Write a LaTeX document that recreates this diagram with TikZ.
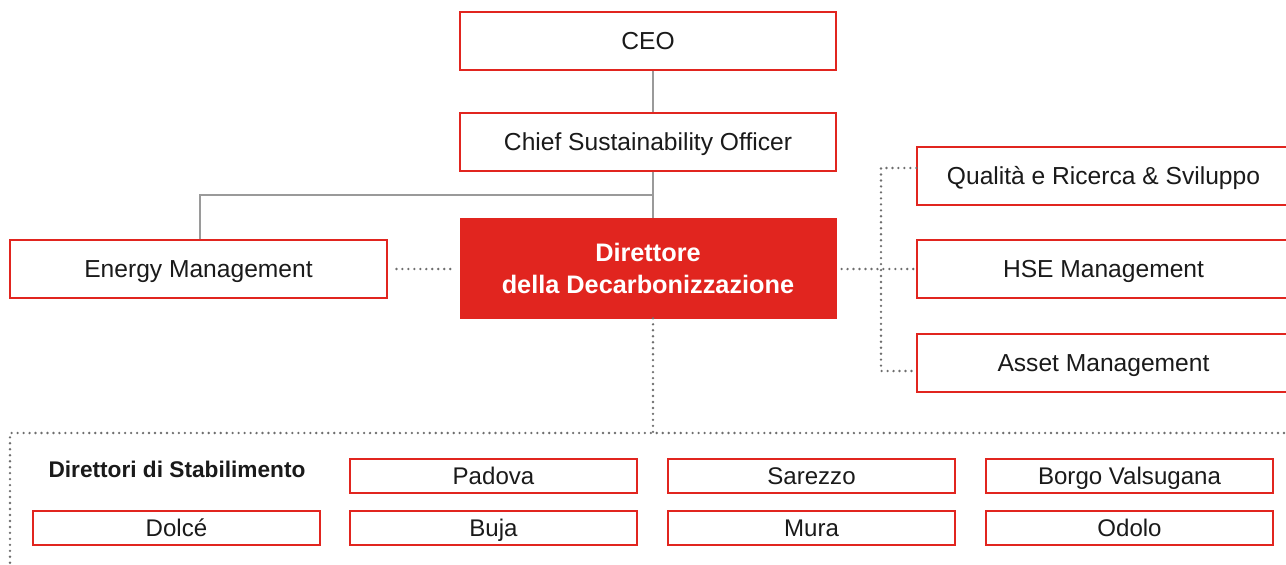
\documentclass[tikz,border=0pt]{standalone}
\usepackage{fontspec}
\setmainfont{Liberation Sans}
\definecolor{orgred}{HTML}{E1251F}
\definecolor{linegrey}{HTML}{9A9A9A}
\definecolor{dotgrey}{HTML}{6E6E6E}
\definecolor{txt}{HTML}{1A1A1A}
\begin{document}
\begin{tikzpicture}[x=0.02cm,y=-0.02cm,
  box/.style={draw=orgred,line width=0.8pt,fill=white,text=txt,font=\fontsize{14}{17}\selectfont,inner sep=0pt,text height=10pt,text depth=0pt,minimum width=7.52cm,minimum height=1.16cm},
  sidebox/.style={box,minimum width=7.46cm},
  plantbox/.style={box,minimum width=5.74cm,minimum height=0.68cm,font=\fontsize{13.7}{16}\selectfont,text height=9.8pt},
  mainbox/.style={fill=orgred,draw=orgred,text=white,font=\bfseries\fontsize{14.4}{17.6}\selectfont,align=center,inner sep=0pt,minimum width=7.52cm,minimum height=2cm},
  solidline/.style={draw=linegrey,line width=0.9pt},
  dotline/.style={draw=dotgrey,line width=1.5pt,line cap=round,dash pattern=on 0pt off 3.4pt}]
\useasboundingbox (0,0) rectangle (1286,565);
\fill[white] (0,0) rectangle (1286,565);
% nodes
\node[box] (ceo) at (648,41) {CEO};
\node[box] (cso) at (648,142) {Chief Sustainability Officer};
\node[mainbox] (dir) at (648,268) {Direttore\\[0.6pt]della Decarbonizzazione};
\node[box,minimum width=7.54cm] (em) at (198.5,269) {Energy Management};
\node[sidebox] (qrs) at (1103.5,176) {Qualità e Ricerca \& Sviluppo};
\node[sidebox] (hse) at (1103.5,269) {HSE Management};
\node[sidebox] (asset) at (1103.5,363) {Asset Management};
% connectors (solid)
\coordinate (j) at (653,195);
\draw[solidline] ([xshift=0.1cm]ceo.south) -- ([xshift=0.1cm]cso.north);
\draw[solidline] ([xshift=0.1cm]cso.south) -- ([xshift=0.1cm]dir.north);
\draw[solidline] (j) -| ([xshift=0.03cm]em.north);
% dotted connectors
\draw[dotline,shorten <=5pt,shorten >=3pt] (em.east) -- (em.east -| dir.west);
\draw[dotline,shorten <=3pt] (hse.west -| dir.east) -- (hse.west);
\coordinate (rv) at (881,168);
\coordinate (rv2) at (881,371);
\draw[dotline] (qrs.west |- rv) -- (rv) -- (rv2) -- (asset.west |- rv2);
\coordinate (bt) at (653,433);
\draw[dotline] ([xshift=0.1cm]dir.south) -- (bt);
\coordinate (fl) at (10,433);
\coordinate (fr) at (1290,433);
\coordinate (fb) at (10,570);
\draw[dotline] (fr) -- (fl) -- (fb);
% plants
\node[font=\bfseries\fontsize{12.9}{15}\selectfont,text=txt] (ds) at (177,469) {Direttori di Stabilimento};
\node[plantbox] (padova) at (493.5,476) {Padova};
\node[plantbox] (sarezzo) at (811.5,476) {Sarezzo};
\node[plantbox] (borgo) at (1129.5,476) {Borgo Valsugana};
\node[plantbox] (dolce) at (176.5,528) {Dolcé};
\node[plantbox] (buja) at (493.5,528) {Buja};
\node[plantbox] (mura) at (811.5,528) {Mura};
\node[plantbox] (odolo) at (1129.5,528) {Odolo};
\end{tikzpicture}
\end{document}
